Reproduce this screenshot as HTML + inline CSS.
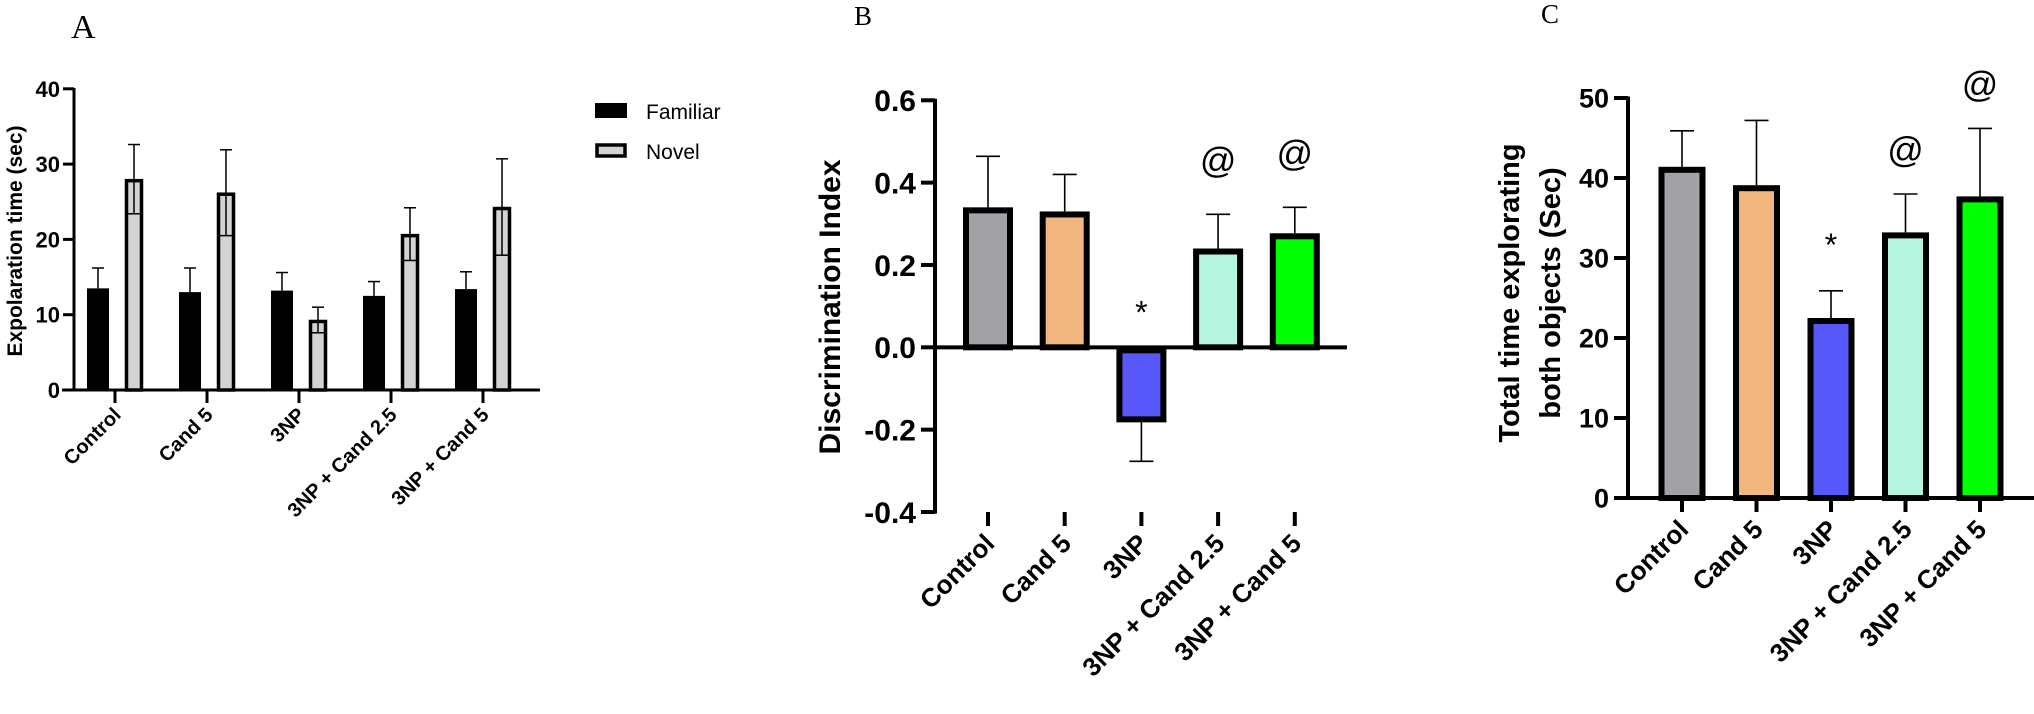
<!DOCTYPE html>
<html><head><meta charset="utf-8"><style>
body{margin:0;background:#fff;}
svg{display:block;font-family:"Liberation Sans",Arial,sans-serif;}
</style></head><body>
<svg id="s" width="2034" height="714" viewBox="0 0 2034 714"></svg>
<script>
const categories = ["Control","Cand 5","3NP","3NP + Cand 2.5","3NP + Cand 5"];
const familiarVals = [13.5,13.0,13.2,12.5,13.4];
const familiarErr = [2.7,3.2,2.4,1.9,2.3];
const novelVals = [28.0,26.2,9.3,20.7,24.3];
const novelErr = [4.6,5.7,1.7,3.5,6.4];
const aTicks = [0,10,20,30,40];
const diVals = [0.34,0.33,-0.175,0.24,0.277];
const diErr = [0.124,0.09,0.102,0.083,0.063];
const diTicks = [-0.4,-0.2,0.0,0.2,0.4,0.6];
const diTickLabels = ["-0.4","-0.2","0.0","0.2","0.4","0.6"];
const totVals = [41.4,39.1,22.5,33.2,37.7];
const totErr = [4.5,8.1,3.4,4.8,8.5];
const cTicks = [0,10,20,30,40,50];
const barColors = ["#a2a1a6","#f2b77e","#5858fa","#b5f5df","#00ff00"];
const diMarks = ["","","*","@","@"];
const totMarks = ["","","*","@","@"];

const S=document.getElementById('s');
const NS="http://www.w3.org/2000/svg";
function el(t,a,p){const e=document.createElementNS(NS,t);for(const k in a)e.setAttribute(k,a[k]);(p||S).appendChild(e);return e;}
function txt(x,y,s,a,p){const e=el('text',Object.assign({x:x,y:y},a),p);e.textContent=s;return e;}

// ---------- Panel A ----------
const gA=el('g',{});


const yA=v=>390-v*7.53;
const xA=i=>115+i*92;
el('line',{x1:74,y1:88,x2:74,y2:391,stroke:'#000','stroke-width':3},gA);
el('line',{x1:62,y1:390,x2:540,y2:390,stroke:'#000','stroke-width':3},gA);
aTicks.forEach(t=>{el('line',{x1:63,y1:yA(t),x2:74,y2:yA(t),stroke:'#000','stroke-width':3},gA);
 const l=txt(60,yA(t)+8,String(t),{'font-size':22,'font-weight':'bold','text-anchor':'end'},gA);
 });
const ta=txt(0,0,'Expolaration time (sec)',{'font-size':21,'font-weight':'bold','text-anchor':'middle',transform:'translate(22,241) rotate(-90)'},gA);

categories.forEach((c,i)=>{
 const cx=xA(i);
 el('line',{x1:cx,y1:390,x2:cx,y2:403,stroke:'#000','stroke-width':3},gA);
 const lab=txt(0,0,c,{'font-size':20,'font-weight':'bold','text-anchor':'end',transform:`translate(${cx+7},${416}) rotate(-45)`},gA);
 
 const fx=cx-17;
 el('line',{x1:fx,y1:yA(familiarVals[i]),x2:fx,y2:yA(familiarVals[i]+familiarErr[i]),stroke:'#000','stroke-width':1.5},gA);
 el('line',{x1:fx-6,y1:yA(familiarVals[i]+familiarErr[i]),x2:fx+6,y2:yA(familiarVals[i]+familiarErr[i]),stroke:'#000','stroke-width':1.5},gA);
 const fb=el('rect',{x:fx-11,y:yA(familiarVals[i]),width:22,height:yA(0)-yA(familiarVals[i]),fill:'#000'},gA);
 
 const nx=cx+19;
 const nb=el('rect',{x:nx-7.5,y:yA(novelVals[i])+1.5,width:15,height:yA(0)-yA(novelVals[i])-1.5,fill:'#d3d3d3',stroke:'#000','stroke-width':3.5},gA);
 
 el('line',{x1:nx,y1:yA(novelVals[i]-novelErr[i]),x2:nx,y2:yA(novelVals[i]+novelErr[i]),stroke:'#000','stroke-width':1.5},gA);
 [novelVals[i]-novelErr[i],novelVals[i]+novelErr[i]].forEach(v=>el('line',{x1:nx-6,y1:yA(v),x2:nx+6,y2:yA(v),stroke:'#000','stroke-width':1.5},gA));
});
const lg=el('g',{},gA);

el('rect',{x:595,y:103,width:32,height:15,fill:'#000'},lg);
el('rect',{x:597,y:145,width:28,height:11,fill:'#d3d3d3',stroke:'#000','stroke-width':3.5},lg);
txt(646,119,'Familiar',{'font-size':21},lg);
txt(646,159,'Novel',{'font-size':21},lg);
txt(71,38,'A',{'font-size':34,'font-family':'"Liberation Serif",serif'},gA);

function panel(name,o){
 const g=el('g',{});
 
 const y=v=>o.y0-(v-o.vmin)*o.k;
 el('line',{x1:o.ax,y1:y(o.ticks[o.ticks.length-1])-1.5,x2:o.ax,y2:y(o.ticks[0])+1.5,stroke:'#000','stroke-width':4},g);
 el('line',{x1:o.ax,y1:y(o.base),x2:o.axEnd,y2:y(o.base),stroke:'#000','stroke-width':4},g);
 o.ticks.forEach((t,j)=>{el('line',{x1:o.ax-14,y1:y(t),x2:o.ax,y2:y(t),stroke:'#000','stroke-width':4},g);
  const l=txt(o.ax-19,y(t)+o.tfs*0.36,o.tickLabels[j],{'font-size':o.tfs,'font-weight':'bold','text-anchor':'end'},g);
  });
 const ty=y(o.ticks[0]);
 categories.forEach((c,i)=>{
  const cx=o.x0+i*o.dx,v=o.vals[i],e=o.err[i];
  el('line',{x1:cx,y1:ty,x2:cx,y2:ty+14,stroke:'#000','stroke-width':4},g);
  const lab=txt(0,0,c,{'font-size':o.lfs,'font-weight':'bold','text-anchor':'end',transform:`translate(${cx+8},${ty+33}) rotate(-45)`},g);
  
  const tip=v>=0?v+e:v-e;
  el('line',{x1:cx,y1:y(v),x2:cx,y2:y(tip),stroke:'#000','stroke-width':1.6},g);
  el('line',{x1:cx-12,y1:y(tip),x2:cx+12,y2:y(tip),stroke:'#000','stroke-width':1.6},g);
  const top=Math.min(y(v),y(o.base)),h=Math.abs(y(v)-y(o.base));
  const b=el('rect',{x:cx-o.bw/2+3,y:top+3,width:o.bw-6,height:h-3,fill:barColors[i],stroke:'#000','stroke-width':6},g);
  
  if(o.marks[i]){
   const isStar=o.marks[i]==='*';
   const my=isStar?(v>=0?y(tip)-o.starOff:y(o.base)-o.starOff):y(tip)-o.atOff;
   const m=txt(cx,my,o.marks[i],{'font-size':isStar?32:36,'text-anchor':'middle','font-family':'"Liberation Sans",sans-serif'},g);
   }
 });
 return g;
}
const gB=panel('panel-b',{ax:935,axEnd:1347,y0:512,vmin:-0.4,k:411.7,base:0,ticks:diTicks,tickLabels:diTickLabels,tfs:30,lfs:26,x0:988,dx:76.7,bw:50,vals:diVals,err:diErr,marks:diMarks,starOff:24,atOff:42});
const tb=txt(0,0,'Discrimination Index',{'font-size':30,'font-weight':'bold','text-anchor':'middle',transform:'translate(840,307) rotate(-90)'},gB);

txt(854,25,'B',{'font-size':27,'font-family':'"Liberation Serif",serif'},gB);

const gC=panel('panel-c',{ax:1628,axEnd:2034,y0:498,vmin:0,k:8.0,base:0,ticks:cTicks,tickLabels:cTicks.map(String),tfs:27,lfs:26,x0:1682,dx:74.5,bw:47,vals:totVals,err:totErr,marks:totMarks,starOff:35,atOff:32});
const tc=el('text',{'font-size':29,'font-weight':'bold','text-anchor':'middle',transform:'translate(1519,293) rotate(-90)'},gC);

const t1=el('tspan',{x:0,y:0},tc);t1.textContent='Total time explorating';
const t2=el('tspan',{x:0,y:41},tc);t2.textContent='both objects (Sec)';
txt(1541,23,'C',{'font-size':27,'font-family':'"Liberation Serif",serif'},gC);
</script>
</body></html>
